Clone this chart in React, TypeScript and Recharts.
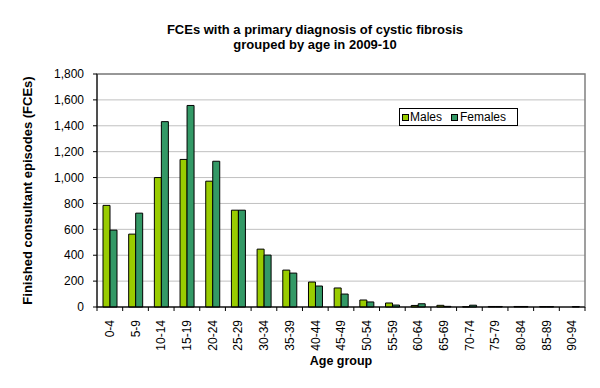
import React from 'react';
import {
  BarChart,
  Bar,
  XAxis,
  YAxis,
  CartesianGrid,
  ReferenceArea,
} from 'recharts';

const ageGroups = [
  '0-4', '5-9', '10-14', '15-19', '20-24', '25-29', '30-34', '35-39', '40-44', '45-49',
  '50-54', '55-59', '60-64', '65-69', '70-74', '75-79', '80-84', '85-89', '90-94',
];
const males = [785, 563, 1000, 1140, 972, 748, 447, 285, 193, 147, 54, 31, 12, 13, 2, 4, 4, 3, 0];
const females = [594, 725, 1432, 1557, 1126, 748, 401, 262, 162, 100, 39, 15, 25, 5, 14, 4, 4, 3, 3];
const yTicks = [0, 200, 400, 600, 800, 1000, 1200, 1400, 1600, 1800];

const data = ageGroups.map((name, i) => ({ name, males: males[i], females: females[i] }));

const FONT = '"Liberation Sans", Arial, sans-serif';
const MALE_COLOR = '#99cc00';
const FEMALE_COLOR = '#339966';

const W = 600;
const H = 388;
const margin = { top: 74, right: 15, bottom: 21, left: 0 };
const yAxisWidth = 97;
const step = (W - margin.right - yAxisWidth) / ageGroups.length;

const AgeTick = (props: any) => {
  const { x, y, payload, index } = props;
  const left = x - step / 2;
  return (
    <g>
      <line x1={left} x2={left} y1={y} y2={y + 4} stroke="#000" />
      {index === ageGroups.length - 1 && (
        <line x1={x + step / 2} x2={x + step / 2} y1={y} y2={y + 4} stroke="#000" />
      )}
      <text
        transform={`translate(${x},${y + 13}) rotate(-90)`}
        textAnchor="end"
        dy="0.35em"
        fontSize={12}
        fontFamily={FONT}
        fill="#000"
      >
        {payload.value}
      </text>
    </g>
  );
};

const LegendBox = () => (
  <div
    style={{
      position: 'absolute',
      left: 399,
      top: 108,
      width: 117,
      height: 16,
      border: '1px solid #000',
      background: '#fff',
      fontFamily: FONT,
      fontSize: 12,
      display: 'flex',
      alignItems: 'center',
    }}
  >
    <span style={{ display: 'inline-block', width: 5, height: 5, background: MALE_COLOR, border: '1px solid #000', marginLeft: 2, marginRight: 1 }} />
    <span>Males</span>
    <span style={{ display: 'inline-block', width: 5, height: 5, background: FEMALE_COLOR, border: '1px solid #000', marginLeft: 9, marginRight: 2 }} />
    <span>Females</span>
  </div>
);

export default function App() {
  return (
    <div style={{ position: 'absolute', left: 0, top: 0, width: W, height: H, background: '#fff' }}>
      <div
        style={{
          position: 'absolute',
          left: 0,
          top: 22,
          width: 630,
          textAlign: 'center',
          fontFamily: FONT,
          fontWeight: 'bold',
          fontSize: 13,
          lineHeight: '15px',
        }}
      >
        FCEs with a primary diagnosis of cystic fibrosis
        <br />
        grouped by age in 2009-10
      </div>
      <BarChart width={W} height={H} data={data} margin={margin} barGap={0} barSize={7}>
        <CartesianGrid vertical={false} stroke="#c0c0c0" />
        <ReferenceArea y1={0} y2={1800} fill="none" stroke="#808080" strokeWidth={1.5} />
        <XAxis
          dataKey="name"
          height={60}
          interval={0}
          tickLine={false}
          tickSize={0}
          tickMargin={0}
          axisLine={{ stroke: '#000' }}
          tick={<AgeTick />}
          label={{
            value: 'Age group',
            position: 'insideBottom',
            offset: 2,
            fontFamily: FONT,
            fontWeight: 'bold',
            fontSize: 12.5,
            fill: '#000',
          }}
        />
        <YAxis
          width={yAxisWidth}
          domain={[0, 1800]}
          ticks={yTicks}
          interval={0}
          tickSize={4}
          tickMargin={9}
          tickLine={{ stroke: '#000' }}
          axisLine={{ stroke: '#000' }}
          tickFormatter={(v: number) => v.toLocaleString('en-US')}
          tick={{ fontFamily: FONT, fontSize: 12, fill: '#000' }}
          label={{
            value: 'Finished consultant episodes (FCEs)',
            angle: -90,
            position: 'center',
            dx: -21,
            fontFamily: FONT,
            fontWeight: 'bold',
            fontSize: 13,
            fill: '#000',
          }}
        />
        <Bar dataKey="males" fill={MALE_COLOR} stroke="#000" strokeWidth={1} isAnimationActive={false} />
        <Bar dataKey="females" fill={FEMALE_COLOR} stroke="#000" strokeWidth={1} isAnimationActive={false} />
      </BarChart>
      <LegendBox />
    </div>
  );
}
